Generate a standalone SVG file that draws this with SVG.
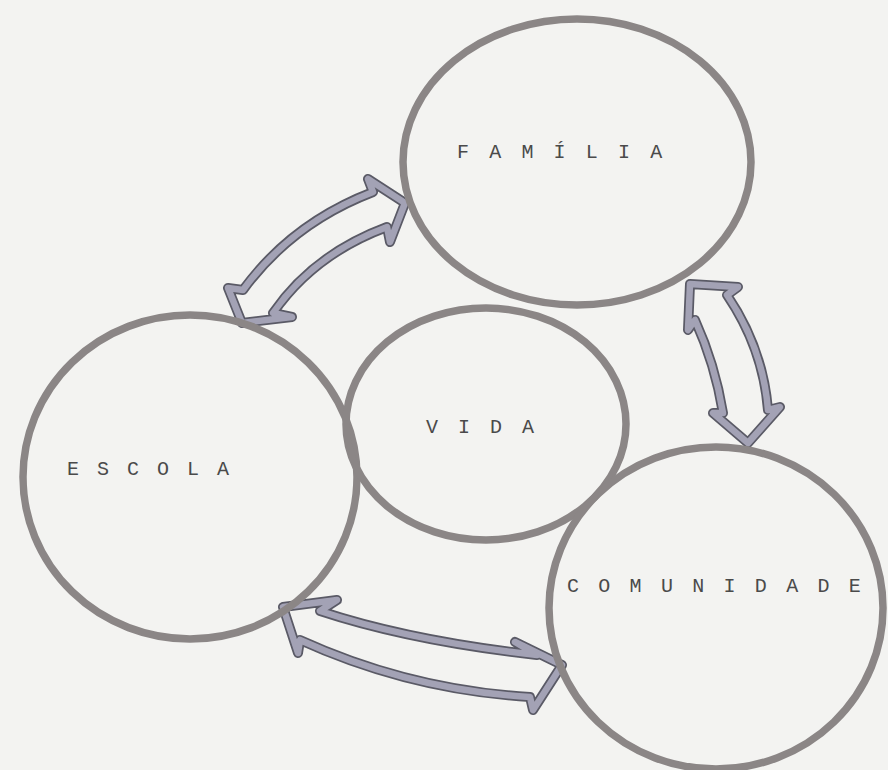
<svg xmlns="http://www.w3.org/2000/svg" width="888" height="770" viewBox="0 0 888 770">
<defs>
<style>
.ring{fill:none;stroke:#8b8686;stroke-width:7.5}
.lbl{font-family:"Liberation Mono","Courier New",monospace;font-size:20px;fill:#4a4a4a}
.ao{fill:none;stroke:#5a5a66;stroke-width:10;stroke-linejoin:round;stroke-linecap:round}
.ai{fill:none;stroke:#a3a2b5;stroke-width:6.5;stroke-linejoin:round;stroke-linecap:round}
</style>
<path id="a1" d="M405,203 L368,179 L373,192 Q292,223 243,290 L228,288 L242,323 L292,317 L273,313 Q314,254 387,227 L390,242 Z"/>
<path id="a2" d="M690,284 L738,287 L727,295 Q763,348 768,410 L780,407 L748,443 L713,413 L723,413 Q715,364 695,320 L688,330 Z"/>
<path id="a3" d="M283,607 L337,600 L320,611 Q411,641 537,655 L515,642 L562,665 L533,710 L530,697 Q410,690 300,640 L298,653 Z"/>
</defs>
<rect width="888" height="770" fill="#f3f3f1"/>
<g id="connectors">
<use href="#a1" class="ao"/><use href="#a1" class="ai"/>
<use href="#a2" class="ao"/><use href="#a2" class="ai"/>
<use href="#a3" class="ao"/><use href="#a3" class="ai"/>
</g>
<g id="familia">
<ellipse class="ring" cx="577" cy="162" rx="174" ry="143"/>
<text class="lbl" x="457" y="158" letter-spacing="4.1">F A M Í L I A</text>
</g>
<g id="escola">
<ellipse class="ring" cx="190" cy="477" rx="167" ry="162"/>
<text class="lbl" x="67" y="475" letter-spacing="3">E S C O L A</text>
</g>
<g id="vida">
<ellipse class="ring" cx="486" cy="424" rx="140" ry="116"/>
<text class="lbl" x="426" y="433" letter-spacing="4">V I D A</text>
</g>
<g id="comunidade">
<ellipse class="ring" cx="716" cy="608" rx="167" ry="161"/>
<text class="lbl" x="567" y="592" letter-spacing="3.65">C O M U N I D A D E</text>
</g>
</svg>
